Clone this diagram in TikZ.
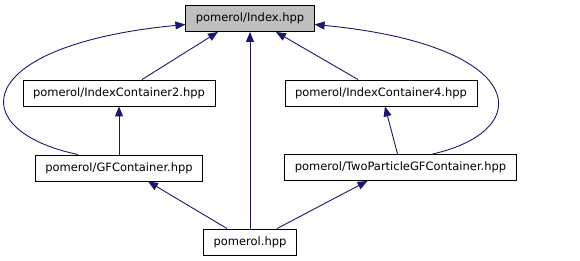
\documentclass[tikz,border=0pt]{standalone}
\usepackage{fontspec}
\setmainfont{DejaVu Sans}
\usetikzlibrary{arrows.meta}
\definecolor{edgeblue}{HTML}{191970}
\definecolor{curgray}{HTML}{BFBFBF}
\tikzset{
	file/.style={draw=black, line width=0.9pt, fill=white, minimum height=26pt, inner xsep=10pt, inner ysep=0pt, font=\fontsize{11.5pt}{13pt}\selectfont},
	dep/.style={draw=edgeblue, line width=0.9pt, -{Triangle[length=10pt,width=8pt]}}
}

\begin{document}
\begin{tikzpicture}[x=1pt, y=-1pt]
			%%%%% START %%%%%
			
			\useasboundingbox (0, 0) rectangle (580, 261);
			
			\node[file, fill=curgray] (index) at (250, 18.5) {pomerol/Index.hpp};
			
			\node[file] (ic2) at (119, 93) {pomerol/IndexContainer2.hpp};
			\node[file] (ic4) at (381, 93) {pomerol/IndexContainer4.hpp};
			
			\node[file] (gf) at (119, 168) {pomerol/GFContainer.hpp};
			\node[file] (tp) at (400.5, 167.5) {pomerol/TwoParticleGFContainer.hpp};
			
			\node[file] (pom) at (250, 242) {pomerol.hpp};
			
			\draw[dep] ([xshift=23pt]ic2.north) -- ([xshift=-32pt]index.south);
			\draw[dep] ([xshift=-23pt]ic4.north) -- ([xshift=26pt]index.south);
			\draw[dep] (pom.north) -- (index.south);
			
			\draw[dep] (gf.north) -- (ic2.south);
			\draw[dep] ([xshift=-3pt]tp.north) -- ([xshift=4pt]ic4.south);
			
			\draw[dep] ([xshift=-23pt]pom.north) -- ([xshift=29pt]gf.south);
			\draw[dep] ([xshift=27pt]pom.north) -- ([xshift=-33pt]tp.south);
			
			\draw[dep] ([xshift=-41pt]gf.north) .. controls (-38, 130) and (-28, 45) .. ([yshift=-6pt]index.west);
			\draw[dep] ([xshift=32pt]tp.north) .. controls (538, 130) and (528, 45) .. ([yshift=-6pt]index.east);
			
			%%%%% END %%%%%
\end{tikzpicture}
\end{document}
